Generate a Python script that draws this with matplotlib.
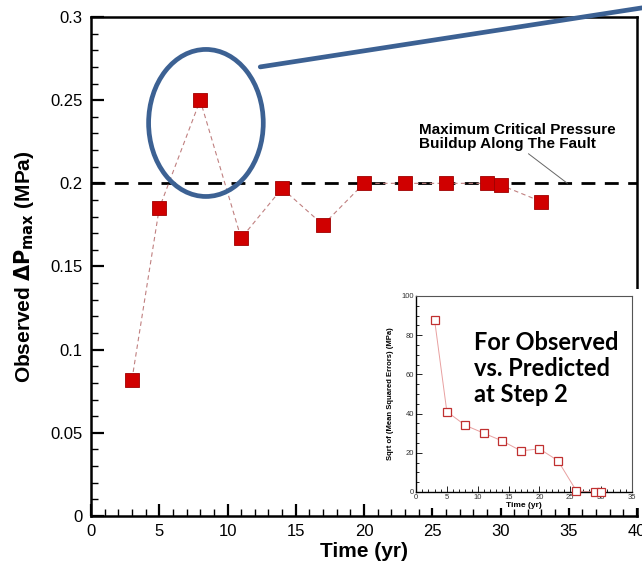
import matplotlib
matplotlib.use("Agg")
import matplotlib.pyplot as plt
from matplotlib.patches import Ellipse, Rectangle
from matplotlib.ticker import MultipleLocator, FormatStrFormatter

plt.rcParams['font.family'] = ['Liberation Sans', 'DejaVu Sans']

# Observed maximum pressure buildup over time
time_yr = [3, 5, 8, 11, 14, 17, 20, 23, 26, 29, 30, 33]
dp_max = [0.082, 0.185, 0.250, 0.167, 0.197, 0.175, 0.200, 0.200, 0.200, 0.200, 0.199, 0.189]
critical_dp = 0.2

# RMS error between observed and predicted values at step 2
err_time = [3, 5, 8, 11, 14, 17, 20, 23, 26, 29, 30]
rmse = [88, 41, 34, 30, 26, 21, 22, 16, 0.5, 0, 0]

W, H = 642, 563
fig = plt.figure(figsize=(W / 100, H / 100), dpi=100)

def px_rect(l, t, r, b):
    return [l / W, 1 - b / H, (r - l) / W, (b - t) / H]

ax = fig.add_axes(px_rect(91, 17, 637, 516))
ax.set_xlim(0, 40)
ax.set_ylim(0, 0.3)

ax.axhline(critical_dp, color='black', lw=2.0, dashes=(5, 3.4), zorder=2)
ax.plot(time_yr, dp_max, color='#c08080', lw=0.8, dashes=(4, 3), zorder=3)
ax.plot(time_yr, dp_max, ls='none', marker='s', ms=9.5, mfc='#d00000',
        mec='#a00000', mew=0.6, zorder=4)

for s in ax.spines.values():
    s.set_linewidth(1.8)
ax.xaxis.set_major_locator(MultipleLocator(5))
ax.xaxis.set_minor_locator(MultipleLocator(1))
ax.yaxis.set_major_locator(MultipleLocator(0.05))
ax.yaxis.set_minor_locator(MultipleLocator(0.01))
ax.yaxis.set_major_formatter(FormatStrFormatter('%g'))
ax.tick_params(which='both', direction='in', top=False, right=False,
               labelsize=12, width=1.6, pad=6)
ax.tick_params(which='major', length=9)
ax.tick_params(which='minor', length=5, width=1.0)
ax.set_xlabel('Time (yr)', fontsize=15, fontweight='bold', labelpad=2)
ax.set_ylabel(r'Observed $\mathbf{\Delta P_{max}}$ (MPa)', fontsize=15,
              fontweight='bold', labelpad=10)

ax.annotate('Maximum Critical Pressure\nBuildup Along The Fault',
            xy=(34.9, critical_dp), xytext=(24.0, 0.2363),
            fontsize=11, fontweight='bold', va='top', ha='left',
            linespacing=1.0,
            arrowprops=dict(arrowstyle='-', color='#666666', lw=0.7,
                            shrinkA=0, shrinkB=0,
                            relpos=(0.54, 0.0)))

# Highlight of the peak value
blue = '#3c6193'
ax.add_patch(Ellipse((8.42, 0.2363), 8.4, 0.0884, fill=False,
                     ec=blue, lw=3.4, zorder=5, clip_on=False))
ax.annotate('', xy=(1.0, 0.986), xycoords='figure fraction',
            xytext=(12.4, 0.270), textcoords='data',
            arrowprops=dict(arrowstyle='-', color=blue, lw=3.4,
                            shrinkA=0, shrinkB=0), zorder=5)

# White panel behind the inset
fig.patches.append(Rectangle((383 / W, 1 - 508 / H), (W - 383) / W,
                             (508 - 289) / H, transform=fig.transFigure,
                             facecolor='white', edgecolor='none', zorder=3))

ins = fig.add_axes(px_rect(416, 296, 632, 492))
ins.set_zorder(5)
ins.set_xlim(0, 35)
ins.set_ylim(0, 100)
ins.plot(err_time, rmse, color='#e8a0a0', lw=0.7, zorder=2)
ins.plot(err_time, rmse, ls='none', marker='s', ms=5.5, mfc='white',
         mec='#c03030', mew=0.9, zorder=3, clip_on=False)
for name, s in ins.spines.items():
    s.set_linewidth(1.0 if name in ('left', 'bottom') else 0.8)
    if name in ('top', 'right'):
        s.set_color('#555555')
ins.xaxis.set_major_locator(MultipleLocator(5))
ins.xaxis.set_minor_locator(MultipleLocator(1))
ins.yaxis.set_major_locator(MultipleLocator(20))
ins.yaxis.set_minor_locator(MultipleLocator(5))
ins.tick_params(which='both', direction='in', top=False, right=False,
                labelsize=5.5, width=0.6, pad=1.5, labelcolor='#333333')
ins.tick_params(which='major', length=4)
ins.tick_params(which='minor', length=2)
ins.set_xlabel('Time (yr)', fontsize=6, fontweight='bold', labelpad=0.5)
ins.set_ylabel('Sqrt of (Mean Squared Errors) (MPa)', fontsize=5.5,
               fontweight='bold', labelpad=5)
ins.text(0.27, 0.82, 'For Observed\nvs. Predicted\nat Step 2',
         transform=ins.transAxes, fontsize=17, fontweight='bold',
         family=['Lato', 'DejaVu Sans'], va='top', ha='left',
         linespacing=1.15)

fig.savefig('out.png', dpi=100)
